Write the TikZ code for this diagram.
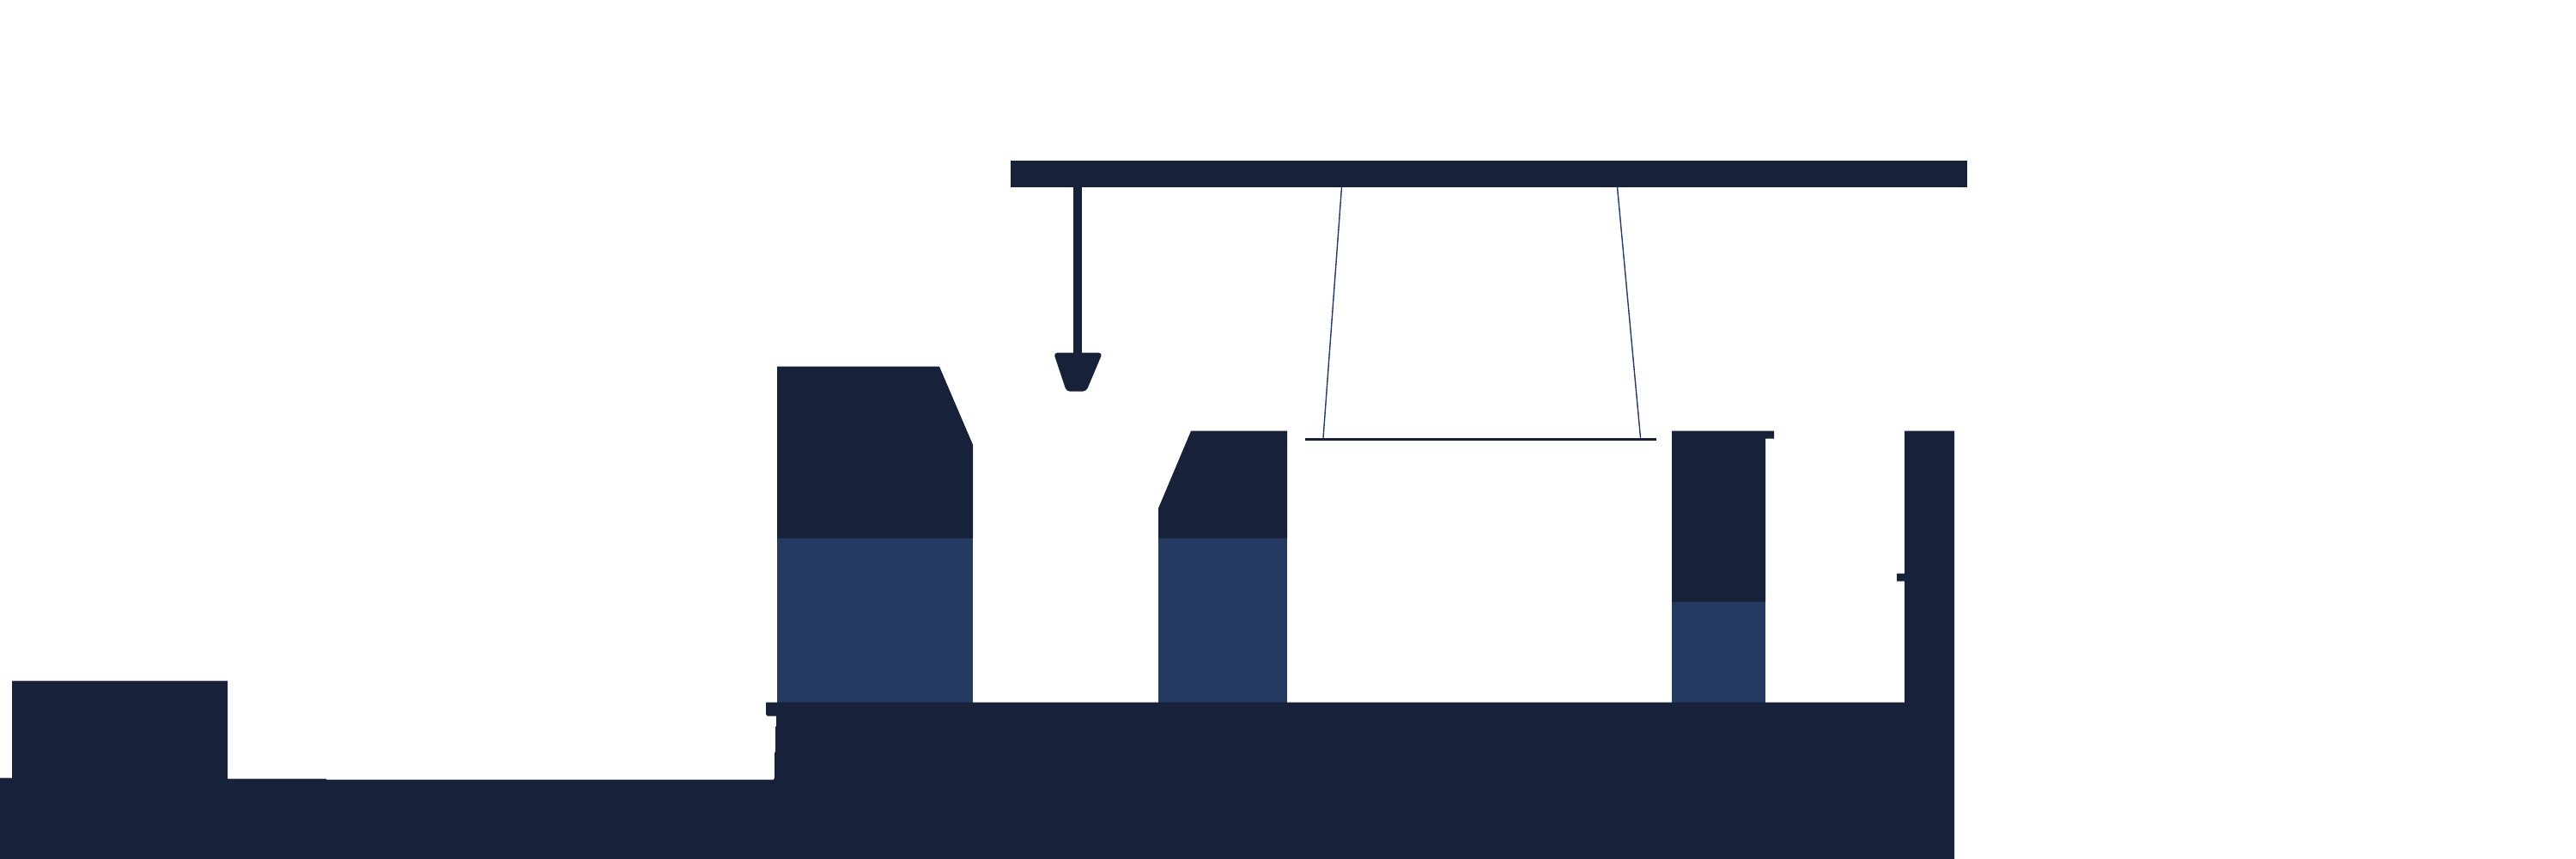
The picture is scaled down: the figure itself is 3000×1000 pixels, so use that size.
\documentclass[tikz,border=0pt]{standalone}
\definecolor{darknavy}{RGB}{24,33,58}
\definecolor{midnavy}{RGB}{37,58,97}
\tikzset{
  dark/.style={fill=darknavy,draw=none},
  mid/.style={fill=midnavy,draw=none},
  wire/.style={draw=midnavy,line width=0.4pt}
}
\begin{document}
\begin{tikzpicture}[x=0.01cm,y=-0.01cm]
\useasboundingbox (0,0) rectangle (3000,1000);
\begin{scope}[yshift=-0.007cm]
% lower parts of the buildings, drawn first so the darker shapes overlap their edges
\fill[mid] (905,620) rectangle (1133,820);
\fill[mid] (1349,620) rectangle (1499,820);
\fill[mid] (1947,694) rectangle (2056,820);
% ground with left block, steps and tower
\fill[dark] (0,1002) -- (0,905) -- (14,905) -- (14,792) -- (265,792) -- (265,906) -- (380,906) -- (380,907)
  -- (901,907) -- (902,905) -- (902,875) -- (903,875) -- (903,845) -- (904,845) -- (904,833)
  -- (894,833) -- (892,831) -- (892,817) -- (2218,817) -- (2218,676) -- (2209,676) -- (2209,667) -- (2218,667)
  -- (2218,501) -- (2276,501) -- (2276,1002) -- cycle;
% building 1
\fill[dark] (905,426) -- (1094,426) -- (1133,517) -- (1133,626) -- (905,626) -- cycle;
% building 2
\fill[dark] (1387,501) -- (1499,501) -- (1499,626) -- (1349,626) -- (1349,591) -- cycle;
% building 3
\fill[dark] (1947,501) -- (2066,501) -- (2066,510) -- (2056,510) -- (2056,700) -- (1947,700) -- cycle;
% top beam
\fill[dark] (1177,186) rectangle (2291,217);
% hook
\fill[dark] (1250,215) rectangle (1260,412);
\fill[dark,rounded corners=1.2pt] (1227,410) -- (1284,410) -- (1265,455) -- (1242,455) -- cycle;
% hanging wires and crossbar
\draw[wire] (1562.5,217) -- (1541,509);
\draw[wire] (1883.5,217) -- (1910.5,509);
\fill[dark] (1520,509) rectangle (1929,512);
\end{scope}
\end{tikzpicture}
\end{document}
